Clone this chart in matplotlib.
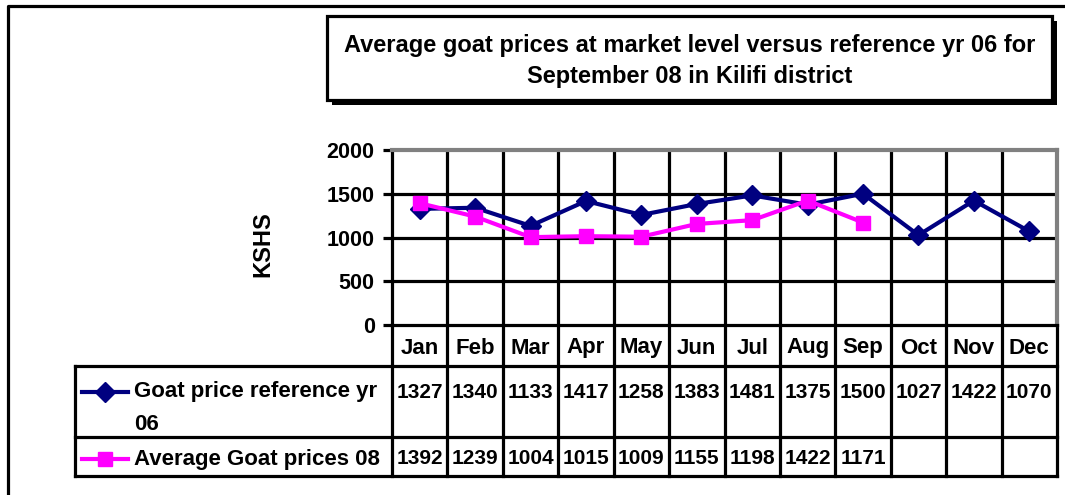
import matplotlib
matplotlib.use("Agg")
import matplotlib.pyplot as plt
from matplotlib.patches import Rectangle
import numpy as np

plt.rcParams['font.family'] = ['Liberation Sans', 'DejaVu Sans']
plt.rcParams['font.weight'] = 'bold'

months = ["Jan", "Feb", "Mar", "Apr", "May", "Jun", "Jul", "Aug", "Sep", "Oct", "Nov", "Dec"]
ref_06 = [1327, 1340, 1133, 1417, 1258, 1383, 1481, 1375, 1500, 1027, 1422, 1070]
avg_08 = [1392, 1239, 1004, 1015, 1009, 1155, 1198, 1422, 1171]
series_names = ["Goat price reference yr", "06", "Average Goat prices 08"]
title = "Average goat prices at market level versus reference yr 06 for\nSeptember 08 in Kilifi district"
ylabel = "KSHS"
yticks = [0, 500, 1000, 1500, 2000]

NAVY = "#000080"
MAG = "#FF00FF"

W, H = 1065, 495
fig = plt.figure(figsize=(W / 100, H / 100), dpi=100)

def fx(px):
    return px / W

def fy(py):
    return 1 - py / H

# pixel layout
PL, PR, PT, PB = 392, 1057, 150, 325
TL, TB = 75, 476
R1, R2 = 366, 437
LW = 2.3  # pt

# overlay axes in pixel coords for frame/title/table
ov = fig.add_axes([0, 0, 1, 1])
ov.set_xlim(0, W)
ov.set_ylim(H, 0)
ov.axis('off')

# outer frame (left + top)
ov.plot([8, 8, W + 5], [H + 5, 6, 6], color='black', lw=LW, solid_capstyle='projecting')

# title box with shadow
ov.add_patch(Rectangle((332, 21), 725, 84, facecolor='black', edgecolor='black', lw=0))
ov.add_patch(Rectangle((327, 16), 725, 84, facecolor='white', edgecolor='black', lw=LW))
ov.text(690, 61, title, ha='center', va='center', fontsize=17, fontweight='bold',
        linespacing=1.45)

# y label
ov.text(263, 244, ylabel, ha='center', va='center', rotation=90, fontsize=17, fontweight='bold')

# main plot
ax = fig.add_axes([fx(PL), fy(PB), fx(PR) - fx(PL), fy(PT) - fy(PB)])
n = len(months)
x = np.arange(n)
ax.set_xlim(-0.5, n - 0.5)
ax.set_ylim(0, 2000)
ax.set_yticks(yticks)
ax.set_yticklabels([str(v) for v in yticks], fontsize=15.5, fontweight='bold')
ax.set_xticks([])
for v in yticks[1:-1]:
    ax.axhline(v, color='black', lw=LW, zorder=1)
for k in range(n - 1):
    ax.axvline(k + 0.5, color='black', lw=LW, zorder=1)
for s in ['top', 'right']:
    ax.spines[s].set_color('#808080')
    ax.spines[s].set_linewidth(3)
for s in ['left', 'bottom']:
    ax.spines[s].set_color('black')
    ax.spines[s].set_linewidth(LW)
ax.tick_params(axis='y', length=6.5, width=LW, pad=6, direction='out')
ax.plot(x, ref_06, color=NAVY, lw=3, marker='D', markersize=10.5, zorder=3, clip_on=False)
ax.plot(x[:len(avg_08)], avg_08, color=MAG, lw=3, marker='s', markersize=10, zorder=4, clip_on=False)

# table
colw = (PR - PL) / n
def cx(k):
    return PL + (k + 0.5) * colw

for k in range(n + 1):
    xb = PL + k * colw
    ov.plot([xb, xb], [PB, TB], color='black', lw=LW, solid_capstyle='projecting')
for yy in (R1, R2, TB):
    ov.plot([TL, PR], [yy, yy], color='black', lw=LW, solid_capstyle='projecting')
ov.plot([TL, TL], [R1, TB], color='black', lw=LW, solid_capstyle='projecting')

for k, m in enumerate(months):
    ov.text(cx(k), 348, m, ha='center', va='center', fontsize=16, fontweight='bold')
for k, v in enumerate(ref_06):
    ov.text(cx(k), 392, str(v), ha='center', va='center', fontsize=15, fontweight='bold')
for k, v in enumerate(avg_08):
    ov.text(cx(k), 459, str(v), ha='center', va='center', fontsize=15, fontweight='bold')

# legend keys in label column
ov.plot([82, 128], [392, 392], color=NAVY, lw=3)
ov.plot([105], [392], marker='D', color=NAVY, markersize=10.5)
ov.plot([82, 128], [459, 459], color=MAG, lw=3)
ov.plot([105], [459], marker='s', color=MAG, markersize=10)
ov.text(134, 392, series_names[0], ha='left', va='center', fontsize=16, fontweight='bold')
ov.text(134, 424, series_names[1], ha='left', va='center', fontsize=16, fontweight='bold')
ov.text(134, 459, series_names[2], ha='left', va='center', fontsize=16, fontweight='bold')

fig.savefig("out.png", dpi=100)
